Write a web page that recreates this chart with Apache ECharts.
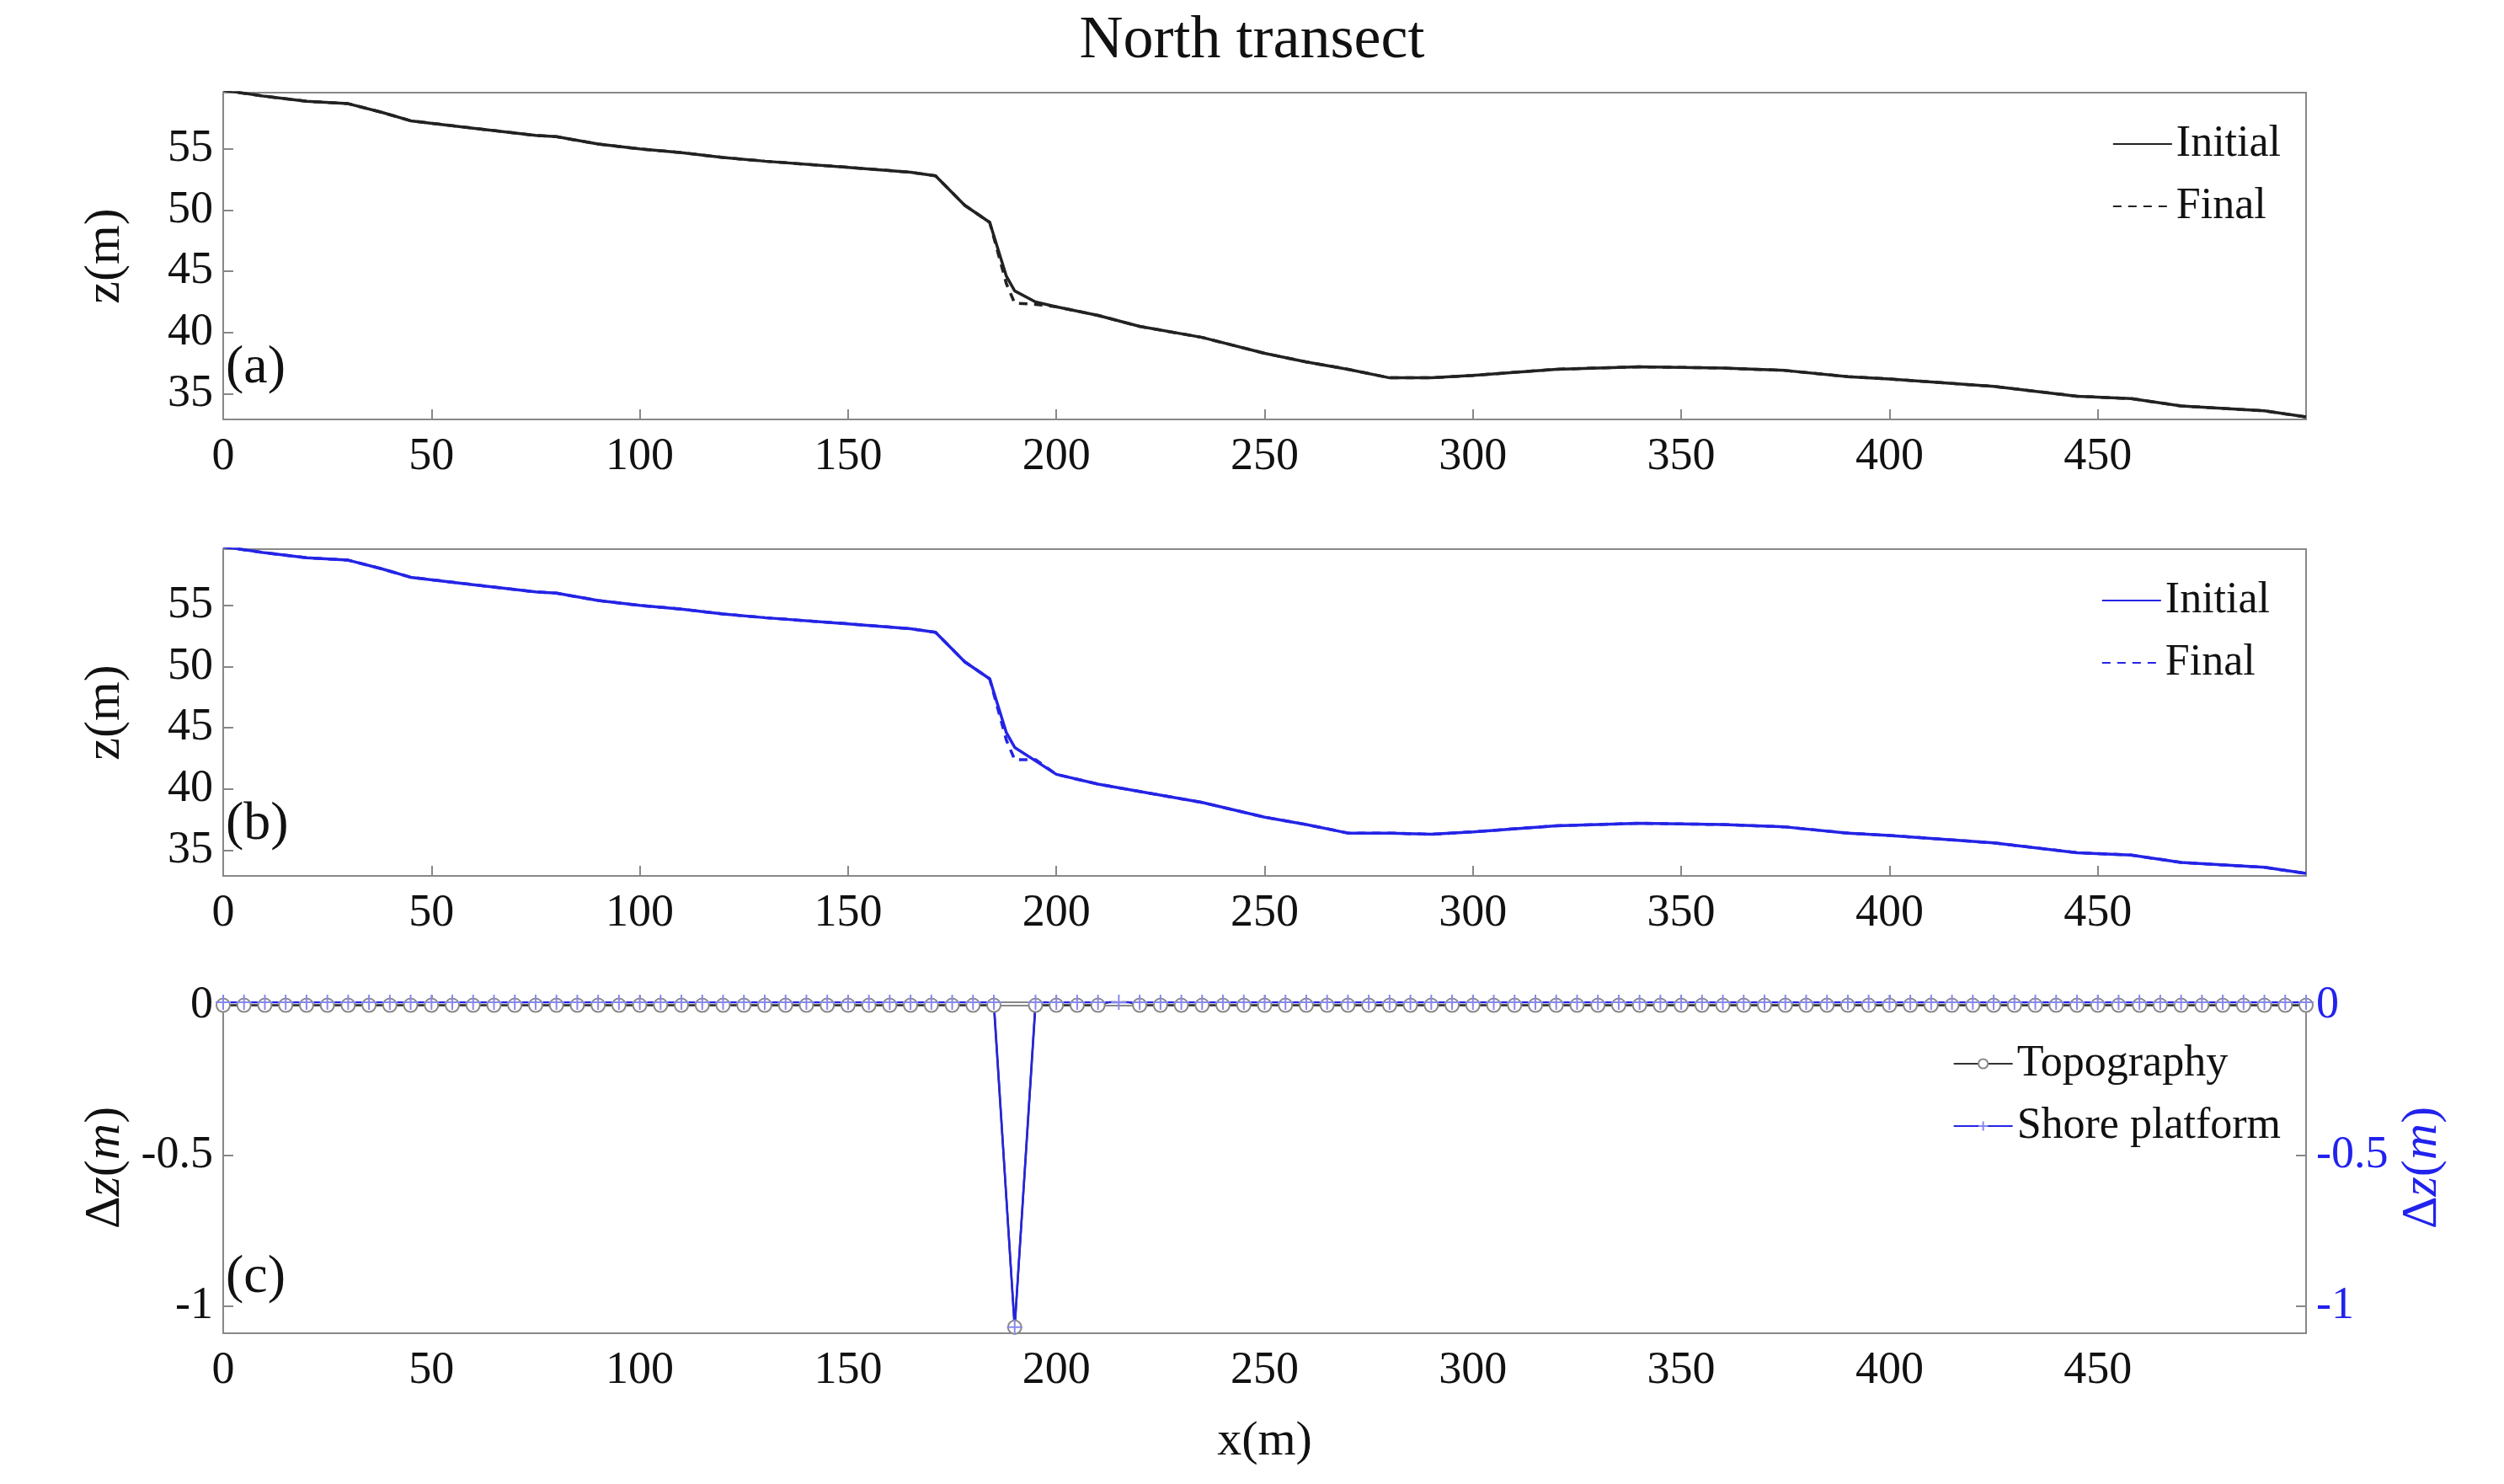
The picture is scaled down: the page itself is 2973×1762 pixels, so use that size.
<!DOCTYPE html>
<html>
<head>
<meta charset="utf-8">
<script src="https://cdn.jsdelivr.net/npm/echarts@6/dist/echarts.min.js"></script>
<style>html,body{margin:0;padding:0;background:#fff}#chart{width:2973px;height:1762px}</style>
</head>
<body>
<div id="chart"></div>
<script>
// profile (a) north transect, x in m, z in m
const xA = [0, 10, 20, 30, 38, 45, 60, 75, 80, 90, 100, 110, 120, 130, 150, 165, 171, 178, 184, 188, 190, 195, 200, 210, 220, 235, 250, 260, 270, 280, 290, 300, 320, 340, 360, 375, 390, 400, 425, 445, 458, 470, 490, 500]
const zInitA = [59.8, 59.3, 58.9, 58.7, 58.0, 57.3, 56.7, 56.1, 56.0, 55.4, 55.0, 54.7, 54.3, 54.0, 53.5, 53.1, 52.8, 50.4, 49.0, 44.6, 43.4, 42.5, 42.1, 41.4, 40.5, 39.6, 38.3, 37.6, 37.0, 36.3, 36.3, 36.5, 37.0, 37.2, 37.1, 36.9, 36.4, 36.2, 35.6, 34.8, 34.6, 34.0, 33.6, 33.1]
const zFinalA = [59.8, 59.3, 58.9, 58.7, 58.0, 57.3, 56.7, 56.1, 56.0, 55.4, 55.0, 54.7, 54.3, 54.0, 53.5, 53.1, 52.8, 50.4, 49.0, 44.0, 42.4, 42.3, 42.1, 41.4, 40.5, 39.6, 38.3, 37.6, 37.0, 36.3, 36.3, 36.5, 37.0, 37.2, 37.1, 36.9, 36.4, 36.2, 35.6, 34.8, 34.6, 34.0, 33.6, 33.1]
// profile (b)
const zInitB = [59.8, 59.3, 58.9, 58.7, 58.0, 57.3, 56.7, 56.1, 56.0, 55.4, 55.0, 54.7, 54.3, 54.0, 53.5, 53.1, 52.8, 50.4, 49.0, 44.6, 43.4, 42.3, 41.2, 40.4, 39.8, 38.9, 37.7, 37.1, 36.4, 36.4, 36.3, 36.5, 37.0, 37.2, 37.1, 36.9, 36.4, 36.2, 35.6, 34.8, 34.6, 34.0, 33.6, 33.1]
const zFinalB = [59.8, 59.3, 58.9, 58.7, 58.0, 57.3, 56.7, 56.1, 56.0, 55.4, 55.0, 54.7, 54.3, 54.0, 53.5, 53.1, 52.8, 50.4, 49.0, 44.0, 42.4, 42.4, 41.2, 40.4, 39.8, 38.9, 37.7, 37.1, 36.4, 36.4, 36.3, 36.5, 37.0, 37.2, 37.1, 36.9, 36.4, 36.2, 35.6, 34.8, 34.6, 34.0, 33.6, 33.1]
// differences (c), every 5 m
const xC = [0,5,10,15,20,25,30,35,40,45,50,55,60,65,70,75,80,85,90,95,100,105,110,115,120,125,130,135,140,145,150,155,160,165,170,175,180,185,190,195,200,205,210,215,220,225,230,235,240,245,250,255,260,265,270,275,280,285,290,295,300,305,310,315,320,325,330,335,340,345,350,355,360,365,370,375,380,385,390,395,400,405,410,415,420,425,430,435,440,445,450,455,460,465,470,475,480,485,490,495,500]
const dzTopo = [0,0,0,0,0,0,0,0,0,0,0,0,0,0,0,0,0,0,0,0,0,0,0,0,0,0,0,0,0,0,0,0,0,0,0,0,0,0,-1.07,0,0,0,0,0.02,0,0,0,0,0,0,0,0,0,0,0,0,0,0,0,0,0,0,0,0,0,0,0,0,0,0,0,0,0,0,0,0,0,0,0,0,0,0,0,0,0,0,0,0,0,0,0,0,0,0,0,0,0,0,0,0,0]
const dzPlat = [0.01,0.01,0.01,0.01,0.01,0.01,0.01,0.01,0.01,0.01,0.01,0.01,0.01,0.01,0.01,0.01,0.01,0.01,0.01,0.01,0.01,0.01,0.01,0.01,0.01,0.01,0.01,0.01,0.01,0.01,0.01,0.01,0.01,0.01,0.01,0.01,0.01,0.01,-1.07,0.01,0.01,0.01,0.01,0.01,0.01,0.01,0.01,0.01,0.01,0.01,0.01,0.01,0.01,0.01,0.01,0.01,0.01,0.01,0.01,0.01,0.01,0.01,0.01,0.01,0.01,0.01,0.01,0.01,0.01,0.01,0.01,0.01,0.01,0.01,0.01,0.01,0.01,0.01,0.01,0.01,0.01,0.01,0.01,0.01,0.01,0.01,0.01,0.01,0.01,0.01,0.01,0.01,0.01,0.01,0.01,0.01,0.01,0.01,0.01,0.01,0.01]
const xTicks = [0, 50, 100, 150, 200, 250, 300, 350, 400, 450]
const zTicks = [35, 40, 45, 50, 55]
const dzTicks = [-1, -0.5, 0]

const FONT = 'Liberation Serif'
const pair = (xs, ys) => xs.map((x, i) => [x, ys[i]])
const plus = 'path://M0,-10L0,10M-10,0L10,0'

const chart = echarts.init(document.getElementById('chart'))
const label = { fontFamily: FONT, fontSize: 54, color: '#111' }
const axLine = { show: true, lineStyle: { color: '#888', width: 2 } }

function xAx(grid, name) {
  return {
    type: 'value', gridIndex: grid, min: 0, max: 500,
    axisLine: axLine, splitLine: { show: false },
    axisTick: { inside: true, length: 12, customValues: xTicks, lineStyle: { color: '#888', width: 2 } },
    axisLabel: Object.assign({ customValues: xTicks, margin: 18 }, label),
    name: name || '', nameLocation: 'middle', nameGap: 100,
    nameTextStyle: { fontFamily: FONT, fontSize: 58, color: '#111' }
  }
}
function yAx(grid, min, max, ticks, name, color, pos, rich) {
  const c = color || '#111'
  const ts = { fontFamily: FONT, fontSize: 60, color: c }
  if (rich) {
    ts.rich = {
      n: { fontFamily: FONT, fontSize: 60, color: c },
      i: { fontFamily: FONT, fontSize: 60, color: c, fontStyle: 'italic' }
    }
  }
  return {
    type: 'value', gridIndex: grid, min: min, max: max, position: pos || 'left',
    axisLine: axLine, splitLine: { show: false },
    axisTick: { inside: true, length: 12, customValues: ticks, lineStyle: { color: '#888', width: 2 } },
    axisLabel: Object.assign({}, label, { customValues: ticks, color: c, margin: 12 }),
    name: name, nameLocation: 'middle', nameGap: pos === 'right' ? 105 : 110,
    nameRotate: 90, nameTextStyle: ts
  }
}
function line(name, data, xi, yi, color, dashed) {
  return {
    name: name, type: 'line', xAxisIndex: xi, yAxisIndex: yi, data: data,
    symbol: 'none', animation: false, z: dashed ? 3 : 2,
    lineStyle: { color: color, width: 3.5, type: dashed ? [10, 8] : 'solid' },
    itemStyle: { color: color }
  }
}
const legendText = { fontFamily: FONT, fontSize: 52, color: '#111' }
const dzName = '{n|Δ}{i|z}{n|(}{i|m}{n|)}'

chart.setOption({
  backgroundColor: '#fff',
  title: { text: 'North transect', left: 'center', top: 8,
    textStyle: { fontFamily: FONT, fontSize: 72, fontWeight: 'normal', color: '#111' } },
  grid: [
    { left: 265, right: 235, top: 110, height: 388, show: true, borderColor: '#888', borderWidth: 2 },
    { left: 265, right: 235, top: 652, height: 388, show: true, borderColor: '#888', borderWidth: 2 },
    { left: 265, right: 235, top: 1190, height: 393, show: true, borderColor: '#888', borderWidth: 2 }
  ],
  xAxis: [xAx(0), xAx(1), xAx(2, 'x(m)')],
  yAxis: [
    yAx(0, 32.9, 59.6, zTicks, 'z(m)'),
    yAx(1, 32.9, 59.6, zTicks, 'z(m)'),
    yAx(2, -1.09, 0.01, dzTicks, dzName, '#111', 'left', true),
    yAx(2, -1.09, 0.01, dzTicks, dzName, '#2222ee', 'right', true)
  ],
  legend: [
    { data: ['Initial', 'Final'], right: 260, top: 140, orient: 'vertical', itemGap: 22, itemWidth: 70,
      itemStyle: { opacity: 0 }, textStyle: legendText },
    { data: ['Initial ', 'Final '], right: 260, top: 682, orient: 'vertical', itemGap: 22, itemWidth: 70,
      itemStyle: { opacity: 0 }, textStyle: legendText },
    { data: ['Topography', 'Shore platform'], right: 260, top: 1232, orient: 'vertical', itemGap: 22, itemWidth: 70, textStyle: legendText }
  ],
  graphic: [
    { type: 'text', left: 268, top: 405, style: { text: '(a)', font: '64px "Liberation Serif"', fill: '#111' } },
    { type: 'text', left: 268, top: 947, style: { text: '(b)', font: '64px "Liberation Serif"', fill: '#111' } },
    { type: 'text', left: 268, top: 1485, style: { text: '(c)', font: '64px "Liberation Serif"', fill: '#111' } }
  ],
  series: [
    line('Initial', pair(xA, zInitA), 0, 0, '#222'),
    line('Final', pair(xA, zFinalA), 0, 0, '#222', true),
    line('Initial ', pair(xA, zInitB), 1, 1, '#2424e6'),
    line('Final ', pair(xA, zFinalB), 1, 1, '#2424e6', true),
    {
      name: 'Topography', type: 'line', xAxisIndex: 2, yAxisIndex: 2, data: pair(xC, dzTopo),
      symbol: 'emptyCircle', symbolSize: 16, animation: false,
      lineStyle: { color: '#333', width: 2.5 }, itemStyle: { color: '#888', borderWidth: 1.5 }
    },
    {
      name: 'Shore platform', type: 'line', xAxisIndex: 2, yAxisIndex: 3, data: pair(xC, dzPlat),
      symbol: plus, symbolSize: 18, animation: false,
      lineStyle: { color: '#2424e6', width: 2.5 }, itemStyle: { color: '#fff', borderColor: '#8888ee', borderWidth: 2 }
    }
  ]
})
</script>
</body>
</html>
